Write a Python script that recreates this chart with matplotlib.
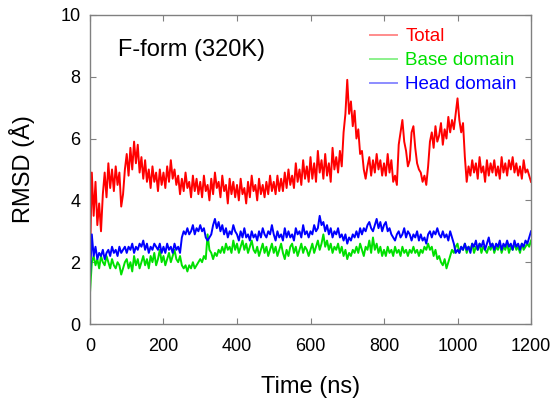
import numpy as np
import matplotlib
matplotlib.use("Agg")
from matplotlib import pyplot as plt

plt.rcParams['font.family'] = ['Liberation Sans', 'DejaVu Sans']

# time axis, ns (one sample every 5 ns)
time_ns = np.arange(0, 1201, 5)

total = [2.0, 4.9, 3.5, 4.6, 3.2, 3.9, 3.0, 4.2, 4.9, 4.1, 5.2, 4.4, 5.0, 4.3, 5.1, 4.5, 4.9, 3.8, 4.2, 5.0,
         5.5, 4.8, 5.7, 5.0, 5.9, 5.2, 5.8, 4.9, 5.4, 4.7, 5.3, 4.6, 5.0, 4.4, 5.1, 4.6, 4.9, 4.3, 5.0, 4.5,
         4.9, 4.4, 5.1, 4.6, 5.3, 4.7, 5.0, 4.5, 4.8, 4.2, 4.7, 4.3, 4.9, 4.4, 4.6, 4.1, 4.8, 4.3, 4.7, 4.2,
         4.6, 4.1, 4.8, 4.3, 4.5, 4.0, 4.7, 4.2, 4.9, 4.4, 4.6, 4.1, 4.8, 4.3, 4.5, 3.9, 4.7, 4.2, 4.6, 4.1,
         4.5, 4.0, 4.7, 4.2, 4.4, 3.9, 4.6, 4.1, 4.8, 4.3, 4.5, 4.0, 4.7, 4.2, 4.5, 4.1, 4.6, 4.2, 4.8, 4.3,
         4.6, 4.2, 4.8, 4.3, 4.7, 4.3, 4.9, 4.4, 5.0, 4.5, 4.8, 4.4, 5.2, 4.6, 5.0, 4.5, 5.3, 4.7, 5.1, 4.6,
         5.4, 4.7, 5.2, 4.6, 5.6, 4.9, 5.3, 4.7, 5.5, 4.8, 5.2, 4.6, 5.7, 5.0, 5.4, 4.9, 5.6, 5.1, 6.2, 6.8,
         7.9, 6.8, 7.2, 6.4, 6.9, 6.0, 6.3, 5.5, 5.6, 5.0, 4.7, 5.1, 5.4, 4.8, 5.3, 4.9, 5.5, 5.0, 5.3, 4.8,
         5.2, 4.8, 5.5, 4.9, 5.3, 4.6, 4.8, 4.5, 5.8, 6.2, 6.6, 5.9, 5.6, 5.1, 5.3, 6.2, 6.4, 5.7, 5.2, 5.0,
         4.9, 4.6, 4.8, 4.5, 5.1, 5.9, 6.2, 5.7, 6.4, 5.9, 6.1, 6.5, 5.8, 6.3, 6.0, 6.7, 6.2, 6.6, 6.3, 6.8,
         7.3, 6.6, 6.2, 6.5, 5.4, 4.6, 5.1, 4.8, 5.3, 4.9, 5.2, 4.7, 5.4, 4.9, 5.1, 4.6, 5.3, 4.8, 5.2, 4.9,
         5.3, 4.8, 5.1, 4.7, 5.4, 4.9, 5.2, 4.8, 5.3, 5.0, 5.4, 4.9, 5.2, 4.8, 5.1, 4.7, 5.3, 4.9, 5.0, 4.8,
         4.6]

base = [1.0, 2.0, 2.2, 1.9, 2.1, 1.8, 2.2, 2.0, 1.9, 2.2, 2.0, 1.8, 2.1, 1.9, 1.8, 2.0, 1.9, 1.6, 1.8, 2.0,
        2.1, 1.8, 2.0, 1.7, 2.2, 1.9, 2.1, 1.8, 2.0, 2.2, 1.9, 2.1, 1.8, 2.2, 2.0, 2.3, 1.9, 2.1, 2.4, 2.0,
        2.2, 1.9, 2.1, 2.3, 2.0, 2.2, 2.4, 2.1, 2.0, 2.2, 1.9, 1.8, 1.9, 1.7, 1.9, 1.8, 2.0, 1.8, 1.9, 2.0,
        2.1, 2.0, 2.2, 2.1, 2.9, 2.4, 2.3, 2.1, 2.3, 2.2, 2.4, 2.3, 2.5, 2.3, 2.6, 2.4, 2.5, 2.3, 2.7, 2.4,
        2.6, 2.3, 2.5, 2.7, 2.4, 2.6, 2.3, 2.5, 2.7, 2.4, 2.3, 2.5, 2.2, 2.4, 2.6, 2.3, 2.5, 2.2, 2.4, 2.6,
        2.3, 2.5, 2.2, 2.4, 2.6, 2.3, 2.1, 2.4, 2.2, 2.5, 2.6, 2.3, 2.5, 2.2, 2.4, 2.6, 2.3, 2.5, 2.4, 2.2,
        2.4, 2.6, 2.3, 2.5, 2.7, 2.4, 2.6, 2.9, 2.5, 2.7, 2.4, 2.6, 2.3, 2.5, 2.4, 2.6, 2.3, 2.5, 2.2, 2.4,
        2.1, 2.3, 2.2, 2.4, 2.3, 2.5, 2.3, 2.6, 2.4, 2.2, 2.5, 2.4, 2.7, 2.3, 2.8, 2.4, 2.6, 2.3, 2.5, 2.2,
        2.4, 2.2, 2.5, 2.3, 2.4, 2.2, 2.5, 2.3, 2.4, 2.2, 2.5, 2.3, 2.4, 2.2, 2.4, 2.3, 2.5, 2.3, 2.4, 2.2,
        2.4, 2.3, 2.5, 2.4, 2.6, 2.4, 2.5, 2.2, 2.4, 2.1, 2.2, 2.0, 1.9, 2.1, 1.8, 2.0, 2.2, 2.4, 2.3, 2.5,
        2.6, 2.3, 2.5, 2.4, 2.6, 2.3, 2.5, 2.4, 2.6, 2.3, 2.5, 2.4, 2.6, 2.3, 2.5, 2.4, 2.3, 2.5, 2.4, 2.6,
        2.3, 2.5, 2.4, 2.6, 2.3, 2.5, 2.4, 2.6, 2.3, 2.5, 2.4, 2.6, 2.4, 2.5, 2.3, 2.6, 2.4, 2.5, 2.6, 2.5,
        2.7]

head = [1.5, 2.9, 2.2, 2.5, 2.1, 2.3, 2.2, 2.4, 2.1, 2.3, 2.4, 2.2, 2.5, 2.3, 2.4, 2.2, 2.5, 2.3, 2.4, 2.5,
        2.3, 2.5, 2.4, 2.6, 2.3, 2.5, 2.4, 2.6, 2.5, 2.7, 2.4, 2.6, 2.3, 2.5, 2.4, 2.6, 2.5, 2.4, 2.6, 2.3,
        2.5, 2.3, 2.6, 2.4, 2.5, 2.3, 2.6, 2.4, 2.5, 2.3, 2.8, 3.0, 2.9, 3.1, 2.9, 3.0, 3.2, 2.9, 3.1, 3.0,
        3.2, 3.0, 3.1, 2.8, 2.7, 2.8, 2.9, 3.2, 3.4, 3.1, 3.3, 3.0, 3.2, 2.9, 3.1, 2.8, 3.0, 2.9, 3.2, 3.0,
        2.9, 2.7, 3.0, 2.8, 3.1, 2.8, 2.9, 2.7, 3.0, 2.8, 2.9, 2.7, 3.0, 2.8, 3.1, 2.9, 2.8, 3.0, 2.9, 3.2,
        2.9, 2.7, 3.0, 2.8, 2.9, 2.7, 3.1, 2.8, 3.0, 2.8, 2.9, 2.7, 3.1, 2.9, 3.0, 2.8, 3.2, 2.9, 3.0, 2.8,
        3.0, 2.9, 3.2, 3.0, 3.1, 3.5, 3.2, 3.3, 3.0, 3.2, 2.9, 3.1, 2.8, 3.0, 2.9, 3.1, 2.8, 2.9, 2.7, 2.9,
        2.6, 2.8, 2.7, 2.9, 2.8, 3.0, 2.8, 3.1, 2.9, 3.1, 3.0, 3.2, 3.3, 3.1, 3.0, 3.2, 3.4, 3.1, 3.3, 3.0,
        3.2, 3.3, 3.0, 3.1, 2.9, 2.8, 2.7, 2.9, 3.0, 2.8, 2.9, 3.1, 2.8, 3.0, 2.9, 2.7, 2.9, 2.8, 3.0, 2.7,
        2.9, 2.7, 2.8, 2.6, 2.9, 3.0, 2.8, 3.0, 2.9, 3.1, 2.9, 2.8, 3.0, 2.8, 2.9, 2.7, 3.0, 2.8, 2.6, 2.3,
        2.4, 2.3, 2.5, 2.4, 2.6, 2.4, 2.5, 2.3, 2.6, 2.5, 2.7, 2.4, 2.6, 2.5, 2.7, 2.4, 2.6, 2.8, 2.5, 2.6,
        2.4, 2.6, 2.5, 2.7, 2.4, 2.6, 2.5, 2.7, 2.5, 2.6, 2.4, 2.7, 2.5, 2.6, 2.4, 2.6, 2.5, 2.7, 2.6, 2.8,
        3.0]

fig = plt.figure(figsize=(5.52, 4.03), dpi=100)
ax = fig.add_axes([0.163, 0.196, 0.799, 0.767])

ax.plot(time_ns, total, color='#ff0000', lw=1.4, label='Total')
ax.plot(time_ns, base, color='#00e000', lw=1.4, label='Base domain')
ax.plot(time_ns, head, color='#0000ff', lw=1.4, label='Head domain')

ax.set_xlim(0, 1200)
ax.set_ylim(0, 10)
ax.set_xticks([0, 200, 400, 600, 800, 1000, 1200])
ax.set_yticks([0, 2, 4, 6, 8, 10])
ax.tick_params(direction='in', length=4, width=0.8, color='#808080',
               top=True, right=True, labelsize=13)
ax.tick_params(axis='x', pad=10)
ax.tick_params(axis='y', pad=7)
for s in ax.spines.values():
    s.set_color('#808080')
    s.set_linewidth(1.0)

ax.set_xlabel('Time (ns)', fontsize=17, labelpad=15)
ax.set_ylabel('RMSD (Å)', fontsize=17, labelpad=18)
ax.text(0.063, 0.887, 'F-form (320K)', transform=ax.transAxes,
        fontsize=17, va='center')

leg = ax.legend(loc='upper left', bbox_to_anchor=(370 / 552, 0.93),
                bbox_transform=fig.transFigure, frameon=False,
                fontsize=13.5, handlelength=1.45, handletextpad=0.43,
                labelspacing=0.37, borderpad=0, borderaxespad=0,
                labelcolor='linecolor')
for h in leg.get_lines():
    h.set_alpha(0.45)

fig.savefig('out.png', dpi=100)
